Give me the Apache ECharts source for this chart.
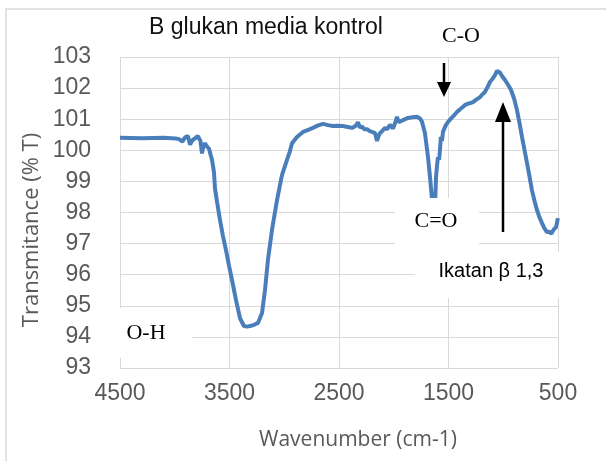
<!DOCTYPE html>
<html>
<head>
<meta charset="utf-8">
<script src="https://cdn.jsdelivr.net/npm/echarts@6/dist/echarts.min.js"></script>
<style>
html,body{margin:0;padding:0;background:#fff;}
#chart{width:606px;height:461px;}
</style>
</head>
<body>
<div id="chart"></div>
<script>
// FTIR spektrum B glukan media kontrol
var wavenumbers = [4500,4300,4100,3990,3960,3930,3905,3880,3860,3840,3810,3790,3765,3751,3738,3724,3705,3687,3672,3660,
  3642,3632,3614,3587,3560,3532,3505,3477,3441,3404,3368,3340,3313,3280,3240,3203,3176,3149,3112,3066,
  3021,2975,2950,2929,2884,2829,2780,2738,2690,2646,2600,2555,2510,2464,2420,2381,2350,2327,2310,2290,
  2270,2244,2220,2199,2170,2153,2140,2126,2105,2080,2060,2034,2020,2007,1990,1970,1955,1943,1910,1870,
  1830,1788,1760,1742,1715,1687,1669,1650,1635,1623,1614,1605,1596,1585,1569,1560,1550,1541,1525,1505,
  1490,1470,1450,1423,1400,1375,1349,1320,1300,1276,1250,1212,1190,1170,1158,1140,1121,1105,1094,1075,
  1057,1045,1030,1010,984,955,929,900,875,850,829,805,783,760,738,715,692,670,646,625,
  601,580,560,540,518,508,500];
var transmittance = [100.40,100.39,100.40,100.38,100.36,100.28,100.42,100.46,100.18,100.32,100.40,100.46,100.30,99.90,100.15,100.22,100.12,100.05,99.85,99.70,
  99.30,98.75,98.35,97.76,97.25,96.79,96.30,95.83,95.19,94.60,94.35,94.33,94.35,94.38,94.45,94.77,95.50,96.47,97.44,98.40,
  99.20,99.69,99.95,100.23,100.43,100.59,100.66,100.72,100.80,100.85,100.81,100.78,100.79,100.78,100.75,100.72,100.78,100.90,100.74,100.76,
  100.68,100.68,100.62,100.59,100.55,100.30,100.45,100.55,100.62,100.72,100.68,100.82,100.78,100.70,100.85,101.08,100.90,100.92,100.98,101.04,
  101.06,101.08,101.02,100.92,100.55,99.78,99.14,98.40,98.10,98.20,99.14,99.50,99.78,99.70,100.43,100.30,100.60,100.65,100.80,100.91,
  100.95,101.05,101.12,101.23,101.30,101.38,101.46,101.50,101.52,101.55,101.62,101.71,101.80,101.86,101.94,102.05,102.20,102.15,102.32,102.42,
  102.55,102.52,102.50,102.38,102.26,102.10,101.94,101.65,101.30,100.85,100.43,100.00,99.59,99.15,98.72,98.38,98.08,97.85,97.66,97.50,
  97.37,97.38,97.32,97.45,97.53,97.70,97.82];
var xGridLines = [4500,3500,2500,1500,500];
var yMin = 93, yMax = 103;

var seriesData = wavenumbers.map(function (w, i) { return [w, transmittance[i]]; });

var chart = echarts.init(document.getElementById('chart'));
var option = {
  backgroundColor: '#fff',
  animation: false,
  title: {
    text: 'B glukan media kontrol',
    left: 149,
    top: 16,
    padding: 0,
    textStyle: {fontFamily: 'Liberation Sans', fontSize: 23, fontWeight: 'normal', color: '#111'}
  },
  grid: {left: 120, right: 48, top: 57, bottom: 93},
  xAxis: {
    type: 'value',
    inverse: true,
    min: 500,
    max: 4500,
    interval: 500,
    axisLine: {show: false},
    axisTick: {show: false},
    splitLine: {show: false},
    axisLabel: {
      margin: 14,
      fontFamily: 'Liberation Sans',
      fontSize: 23,
      color: '#595959',
      formatter: function (v) { return v % 1000 === 500 ? String(v) : ''; }
    }
  },
  yAxis: {
    type: 'value',
    min: yMin,
    max: yMax,
    interval: 1,
    axisLine: {show: false},
    axisTick: {show: false},
    splitLine: {lineStyle: {color: '#d9d9d9', width: 1}},
    axisLabel: {margin: 29, fontFamily: 'Liberation Sans', fontSize: 23, color: '#595959'}
  },
  series: [{
    type: 'line',
    data: seriesData,
    showSymbol: false,
    lineStyle: {color: '#4a7ebb', width: 4},
    z: 2,
    markLine: {
      silent: true,
      z: 1,
      symbol: ['none', 'none'],
      label: {show: false},
      lineStyle: {color: '#d9d9d9', width: 1, type: 'solid'},
      emphasis: {disabled: true},
      data: xGridLines.map(function (w) { return {xAxis: w}; })
    }
  }],
  graphic: [
    // bingkai luar
    {type: 'rect', z: 0, silent: true, shape: {x: 6, y: 9, width: 700, height: 600}, style: {fill: 'none', stroke: '#d9d9d9', lineWidth: 1.5}},
    // kotak label
    {type: 'rect', z: 10, silent: true, shape: {x: 395, y: 198, width: 84, height: 58}, style: {fill: '#fff'}},
    {type: 'rect', z: 10, silent: true, shape: {x: 415, y: 252, width: 185, height: 46}, style: {fill: '#fff'}},
    {type: 'rect', z: 10, silent: true, shape: {x: 110, y: 308, width: 82, height: 50}, style: {fill: '#fff'}},
    // teks anotasi
    {type: 'text', z: 11, silent: true, style: {text: 'C-O', x: 461, y: 36, fontFamily: 'Liberation Serif', fontSize: 22, fill: '#000', align: 'center', verticalAlign: 'middle'}},
    {type: 'text', z: 11, silent: true, style: {text: 'C=O', x: 436, y: 221, fontFamily: 'Liberation Serif', fontSize: 22, fill: '#000', align: 'center', verticalAlign: 'middle'}},
    {type: 'text', z: 11, silent: true, style: {text: 'O-H', x: 146, y: 333, fontFamily: 'Liberation Serif', fontSize: 22, fill: '#000', align: 'center', verticalAlign: 'middle'}},
    {type: 'text', z: 11, silent: true, style: {text: 'Ikatan β 1,3', x: 491, y: 271, fontFamily: 'Liberation Sans', fontSize: 20, fill: '#000', align: 'center', verticalAlign: 'middle'}},
    // panah
    {type: 'line', z: 11, silent: true, shape: {x1: 444, y1: 63, x2: 444, y2: 85}, style: {stroke: '#000', lineWidth: 2.5}},
    {type: 'polygon', z: 11, silent: true, shape: {points: [[437, 82], [451, 82], [444, 97]]}, style: {fill: '#000'}},
    {type: 'line', z: 11, silent: true, shape: {x1: 503, y1: 232, x2: 503, y2: 118}, style: {stroke: '#000', lineWidth: 2.5}},
    {type: 'polygon', z: 11, silent: true, shape: {points: [[495, 122], [511, 122], [503, 102]]}, style: {fill: '#000'}},
    // nama sumbu
    {type: 'text', z: 11, silent: true, x: 32, y: 230, rotation: Math.PI / 2,
      style: {text: 'Transmitance (% T)', x: 0, y: 0, fontFamily: 'Open Sans', fontSize: 22, fill: '#595959', align: 'center', verticalAlign: 'middle'}},
    {type: 'text', z: 11, silent: true,
      style: {text: 'Wavenumber (cm-1)', x: 358, y: 440, fontFamily: 'Open Sans', fontSize: 21, fill: '#595959', align: 'center', verticalAlign: 'middle'}}
  ]
};
chart.setOption(option);
</script>
</body>
</html>
